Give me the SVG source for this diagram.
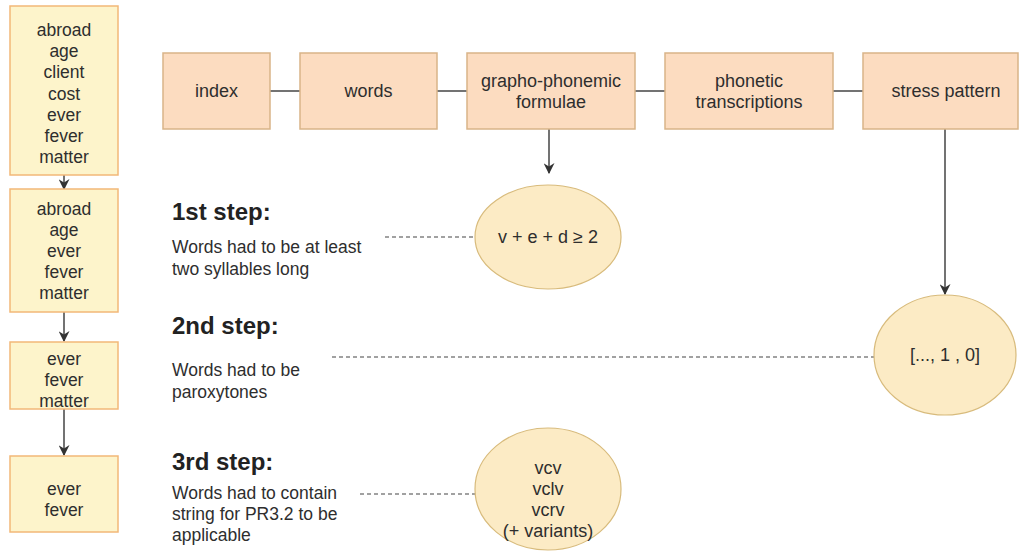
<svg xmlns="http://www.w3.org/2000/svg" width="1025" height="554" viewBox="0 0 1025 554">
  <style>
    text { font-family: "Liberation Sans", Arial, sans-serif; fill: #2e2e2e; }
    .lbl { font-size: 18px; text-anchor: middle; }
    .col { font-size: 17.5px; text-anchor: middle; }
    .head { font-size: 24px; font-weight: bold; fill: #222222; }
    .desc { font-size: 17.5px; }
    .tbox { fill: #fcdcc0; stroke: #d9b488; stroke-width: 1.5; }
    .wbox { fill: #fdf4cb; stroke: #f2b878; stroke-width: 1.5; }
    .ell { fill: #fcebc5; stroke: #d8bb7c; stroke-width: 1.2; }
    .solid { stroke: #444444; stroke-width: 1.5; fill: none; }
    .dash { stroke: #444444; stroke-width: 1.1; fill: none; stroke-dasharray: 4 3; }
  </style>
  <defs>
    <marker id="arr" viewBox="0 0 10 10" refX="9" refY="5" markerWidth="11" markerHeight="11" orient="auto" markerUnits="userSpaceOnUse">
      <path d="M0,0 L10,5 L0,10 L3,5 Z" fill="#333333"/>
    </marker>
  </defs>
  <rect width="1025" height="554" fill="#ffffff"/>

  <!-- connectors -->
  <g id="connectors">
    <line class="solid" x1="270" y1="91" x2="300" y2="91"/>
    <line class="solid" x1="437" y1="91" x2="467" y2="91"/>
    <line class="solid" x1="635" y1="91" x2="665" y2="91"/>
    <line class="solid" x1="833" y1="91" x2="863" y2="91"/>
    <line class="solid" x1="549" y1="129" x2="549" y2="173" marker-end="url(#arr)"/>
    <line class="solid" x1="945" y1="129" x2="945" y2="294" marker-end="url(#arr)"/>
    <line class="solid" x1="64" y1="175" x2="64" y2="189" marker-end="url(#arr)"/>
    <line class="solid" x1="64" y1="312" x2="64" y2="341" marker-end="url(#arr)"/>
    <line class="solid" x1="64" y1="409" x2="64" y2="455" marker-end="url(#arr)"/>
    <line class="dash" x1="385" y1="237" x2="475" y2="237"/>
    <line class="dash" x1="332" y1="357" x2="874" y2="357"/>
    <line class="dash" x1="360" y1="494" x2="476" y2="494"/>
  </g>

  <!-- top row -->
  <g id="node-index">
    <rect class="tbox" x="163" y="53" width="107" height="76"/>
    <text class="lbl" x="216.5" y="97">index</text>
  </g>
  <g id="node-words">
    <rect class="tbox" x="300" y="53" width="137" height="76"/>
    <text class="lbl" x="368.5" y="97">words</text>
  </g>
  <g id="node-grapho">
    <rect class="tbox" x="467" y="53" width="168" height="76"/>
    <text class="lbl" x="551" y="87">grapho-phonemic</text>
    <text class="lbl" x="551" y="108">formulae</text>
  </g>
  <g id="node-phonetic">
    <rect class="tbox" x="665" y="53" width="168" height="76"/>
    <text class="lbl" x="749" y="87">phonetic</text>
    <text class="lbl" x="749" y="108">transcriptions</text>
  </g>
  <g id="node-stress">
    <rect class="tbox" x="863" y="53" width="155" height="76"/>
    <text class="lbl" x="946" y="97">stress pattern</text>
  </g>

  <!-- word lists -->
  <g id="list-1">
    <rect class="wbox" x="10" y="6" width="108" height="169"/>
    <text class="col" x="64" y="36">abroad</text>
    <text class="col" x="64" y="57">age</text>
    <text class="col" x="64" y="78">client</text>
    <text class="col" x="64" y="100">cost</text>
    <text class="col" x="64" y="121">ever</text>
    <text class="col" x="64" y="142">fever</text>
    <text class="col" x="64" y="163">matter</text>
  </g>
  <g id="list-2">
    <rect class="wbox" x="10" y="189" width="108" height="123"/>
    <text class="col" x="64" y="215">abroad</text>
    <text class="col" x="64" y="236">age</text>
    <text class="col" x="64" y="257">ever</text>
    <text class="col" x="64" y="278">fever</text>
    <text class="col" x="64" y="299">matter</text>
  </g>
  <g id="list-3">
    <rect class="wbox" x="10" y="342" width="108" height="67"/>
    <text class="col" x="64" y="365">ever</text>
    <text class="col" x="64" y="386">fever</text>
    <text class="col" x="64" y="407">matter</text>
  </g>
  <g id="list-4">
    <rect class="wbox" x="10" y="456" width="108" height="76"/>
    <text class="col" x="64" y="495">ever</text>
    <text class="col" x="64" y="516">fever</text>
  </g>

  <!-- filter criteria -->
  <g id="node-syllables">
    <ellipse class="ell" cx="548" cy="237" rx="73" ry="52"/>
    <text class="lbl" x="548" y="243">v + e + d ≥ 2</text>
  </g>
  <g id="node-paroxytone">
    <ellipse class="ell" cx="945" cy="355" rx="71" ry="60"/>
    <text class="lbl" x="945" y="361">[..., 1 , 0]</text>
  </g>
  <g id="node-strings">
    <ellipse class="ell" cx="548" cy="489" rx="73" ry="61"/>
    <text class="lbl" x="548" y="474">vcv</text>
    <text class="lbl" x="548" y="495">vclv</text>
    <text class="lbl" x="548" y="516">vcrv</text>
    <text class="lbl" x="548" y="537">(+ variants)</text>
  </g>

  <!-- step descriptions -->
  <g id="step-1">
    <text class="head" x="172" y="220">1st step:</text>
    <text class="desc" x="172" y="253">Words had to be at least</text>
    <text class="desc" x="172" y="275">two syllables long</text>
  </g>
  <g id="step-2">
    <text class="head" x="172" y="334">2nd step:</text>
    <text class="desc" x="172" y="376">Words had to be</text>
    <text class="desc" x="172" y="398">paroxytones</text>
  </g>
  <g id="step-3">
    <text class="head" x="172" y="470">3rd step:</text>
    <text class="desc" x="172" y="499">Words had to contain</text>
    <text class="desc" x="172" y="520">string for PR3.2 to be</text>
    <text class="desc" x="172" y="541">applicable</text>
  </g>
</svg>
